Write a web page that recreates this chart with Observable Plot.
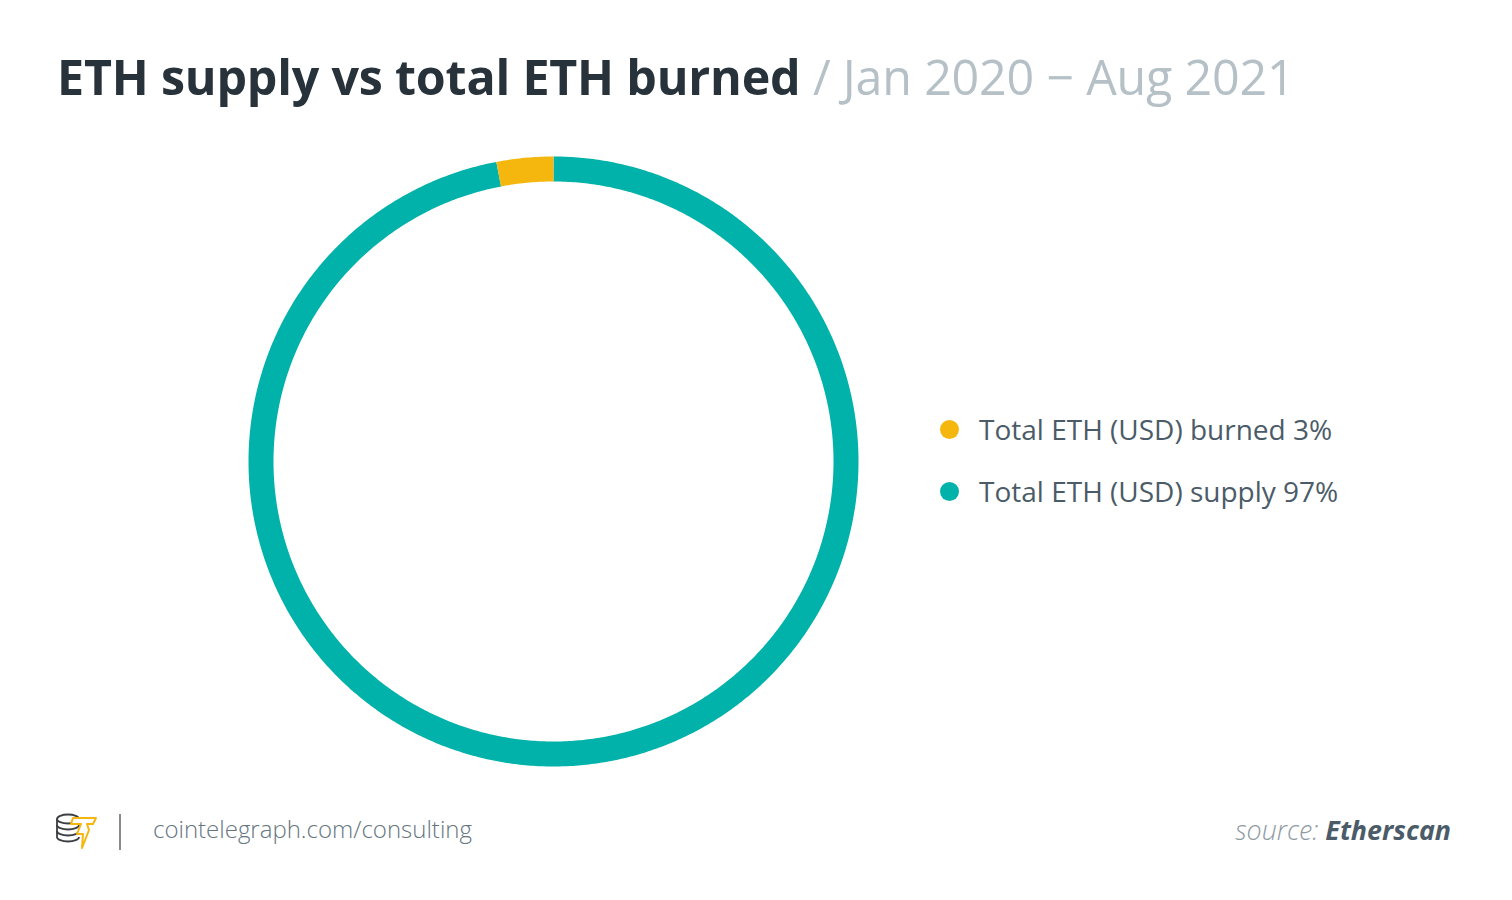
<!DOCTYPE html>
<html>
<head>
<meta charset="utf-8">
<script src="https://cdn.jsdelivr.net/npm/d3@7"></script>
<script src="https://cdn.jsdelivr.net/npm/@observablehq/plot@0.6"></script>
<style>
  html, body { margin: 0; padding: 0; background: #fff; }
  body { width: 1512px; height: 900px; position: relative; overflow: hidden; font-family: "Open Sans", sans-serif; }
  #title { position: absolute; left: 57px; top: 43px; font-size: 48.4px; white-space: nowrap; letter-spacing: -0.2px; }
  #title b { color: #27323a; font-weight: 700; }
  #title span { color: #b5c1c7; font-weight: 400; }
  #chart { position: absolute; left: 203px; top: 111px; }
  #legend { position: absolute; left: 940px; top: 398px; }
  .item { display: flex; align-items: center; height: 62px; font-size: 28px; color: #4b5c68; }
  .dot { width: 19px; height: 19px; border-radius: 50%; margin-right: 20px; }
  #footer-url { position: absolute; left: 153px; top: 812px; font-size: 24px; color: #66767f; font-weight: 300; }
  #sep { position: absolute; left: 119px; top: 814px; width: 2px; height: 36px; background: #8b8b8b; }
  #logo { position: absolute; left: 55px; top: 812px; }
  #source { position: absolute; right: 61px; top: 811px; font-size: 26.8px; font-style: italic; color: #8d9aa2; font-weight: 300; }
  #source b { color: #4b5c68; font-weight: 700; }
</style>
</head>
<body>
<div id="title"><b>ETH supply vs total ETH burned</b> <span>/ Jan 2020 − Aug 2021</span></div>
<div id="chart"></div>
<div id="legend"></div>
<svg id="logo" width="44" height="40" viewBox="0 0 44 40">
  <g fill="none" stroke="#3a3f44" stroke-width="1.8">
    <ellipse cx="13" cy="7" rx="11" ry="4.5"/>
    <path d="M2 7 v6 c0 2.5 5 4.5 11 4.5 s11 -2 11 -4.5"/>
    <path d="M2 13 v6 c0 2.5 5 4.5 11 4.5 s11 -2 11 -4.5"/>
    <path d="M2 19 v6 c0 2.5 5 4.5 11 4.5 s11 -2 11 -4.5"/>
  </g>
  <path d="M18 6 L41 6 L38 12 L32 12 L34 18 L27 36 L28 22 L22 22 L26 12 L16 12 Z" fill="#fff" stroke="#f5b70e" stroke-width="2" stroke-linejoin="round"/>
</svg>
<div id="sep"></div>
<div id="footer-url">cointelegraph.com/consulting</div>
<div id="source">source: <b>Etherscan</b></div>
<script>
// Data
const categories = ["Total ETH (USD) burned", "Total ETH (USD) supply"];
const shares = [3, 97];
const colors = ["#f5b70e", "#00b2a9"];
// clockwise drawing order starting at 12 o'clock
const drawOrder = ["Total ETH (USD) supply", "Total ETH (USD) burned"];

const total = d3.sum(shares);
const ringRadius = 292.5;
const points = [];
let start = 0;
for (const cat of drawOrder) {
  const v = shares[categories.indexOf(cat)];
  const a0 = start / total * 2 * Math.PI;
  const a1 = (start + v) / total * 2 * Math.PI;
  const n = Math.max(4, Math.ceil((a1 - a0) / (Math.PI / 360)));
  for (let i = 0; i <= n; i++) {
    const a = a0 + (a1 - a0) * i / n;
    points.push({cat, x: ringRadius * Math.sin(a), y: ringRadius * Math.cos(a)});
  }
  start += v;
}

const chart = Plot.plot({
  width: 700,
  height: 700,
  margin: 0,
  x: {domain: [-350, 350], axis: null},
  y: {domain: [-350, 350], axis: null},
  color: {domain: categories, range: colors},
  marks: [
    Plot.line(points, {x: "x", y: "y", z: "cat", stroke: "cat", strokeWidth: 25, strokeLinecap: "butt", strokeLinejoin: "round", curve: "linear"})
  ]
});
document.getElementById("chart").appendChild(chart);

const legend = d3.select("#legend");
categories.forEach((c, i) => {
  const item = legend.append("div").attr("class", "item");
  item.append("div").attr("class", "dot").style("background", colors[i]);
  item.append("div").text(`${c} ${shares[i]}%`);
});
</script>
</body>
</html>
